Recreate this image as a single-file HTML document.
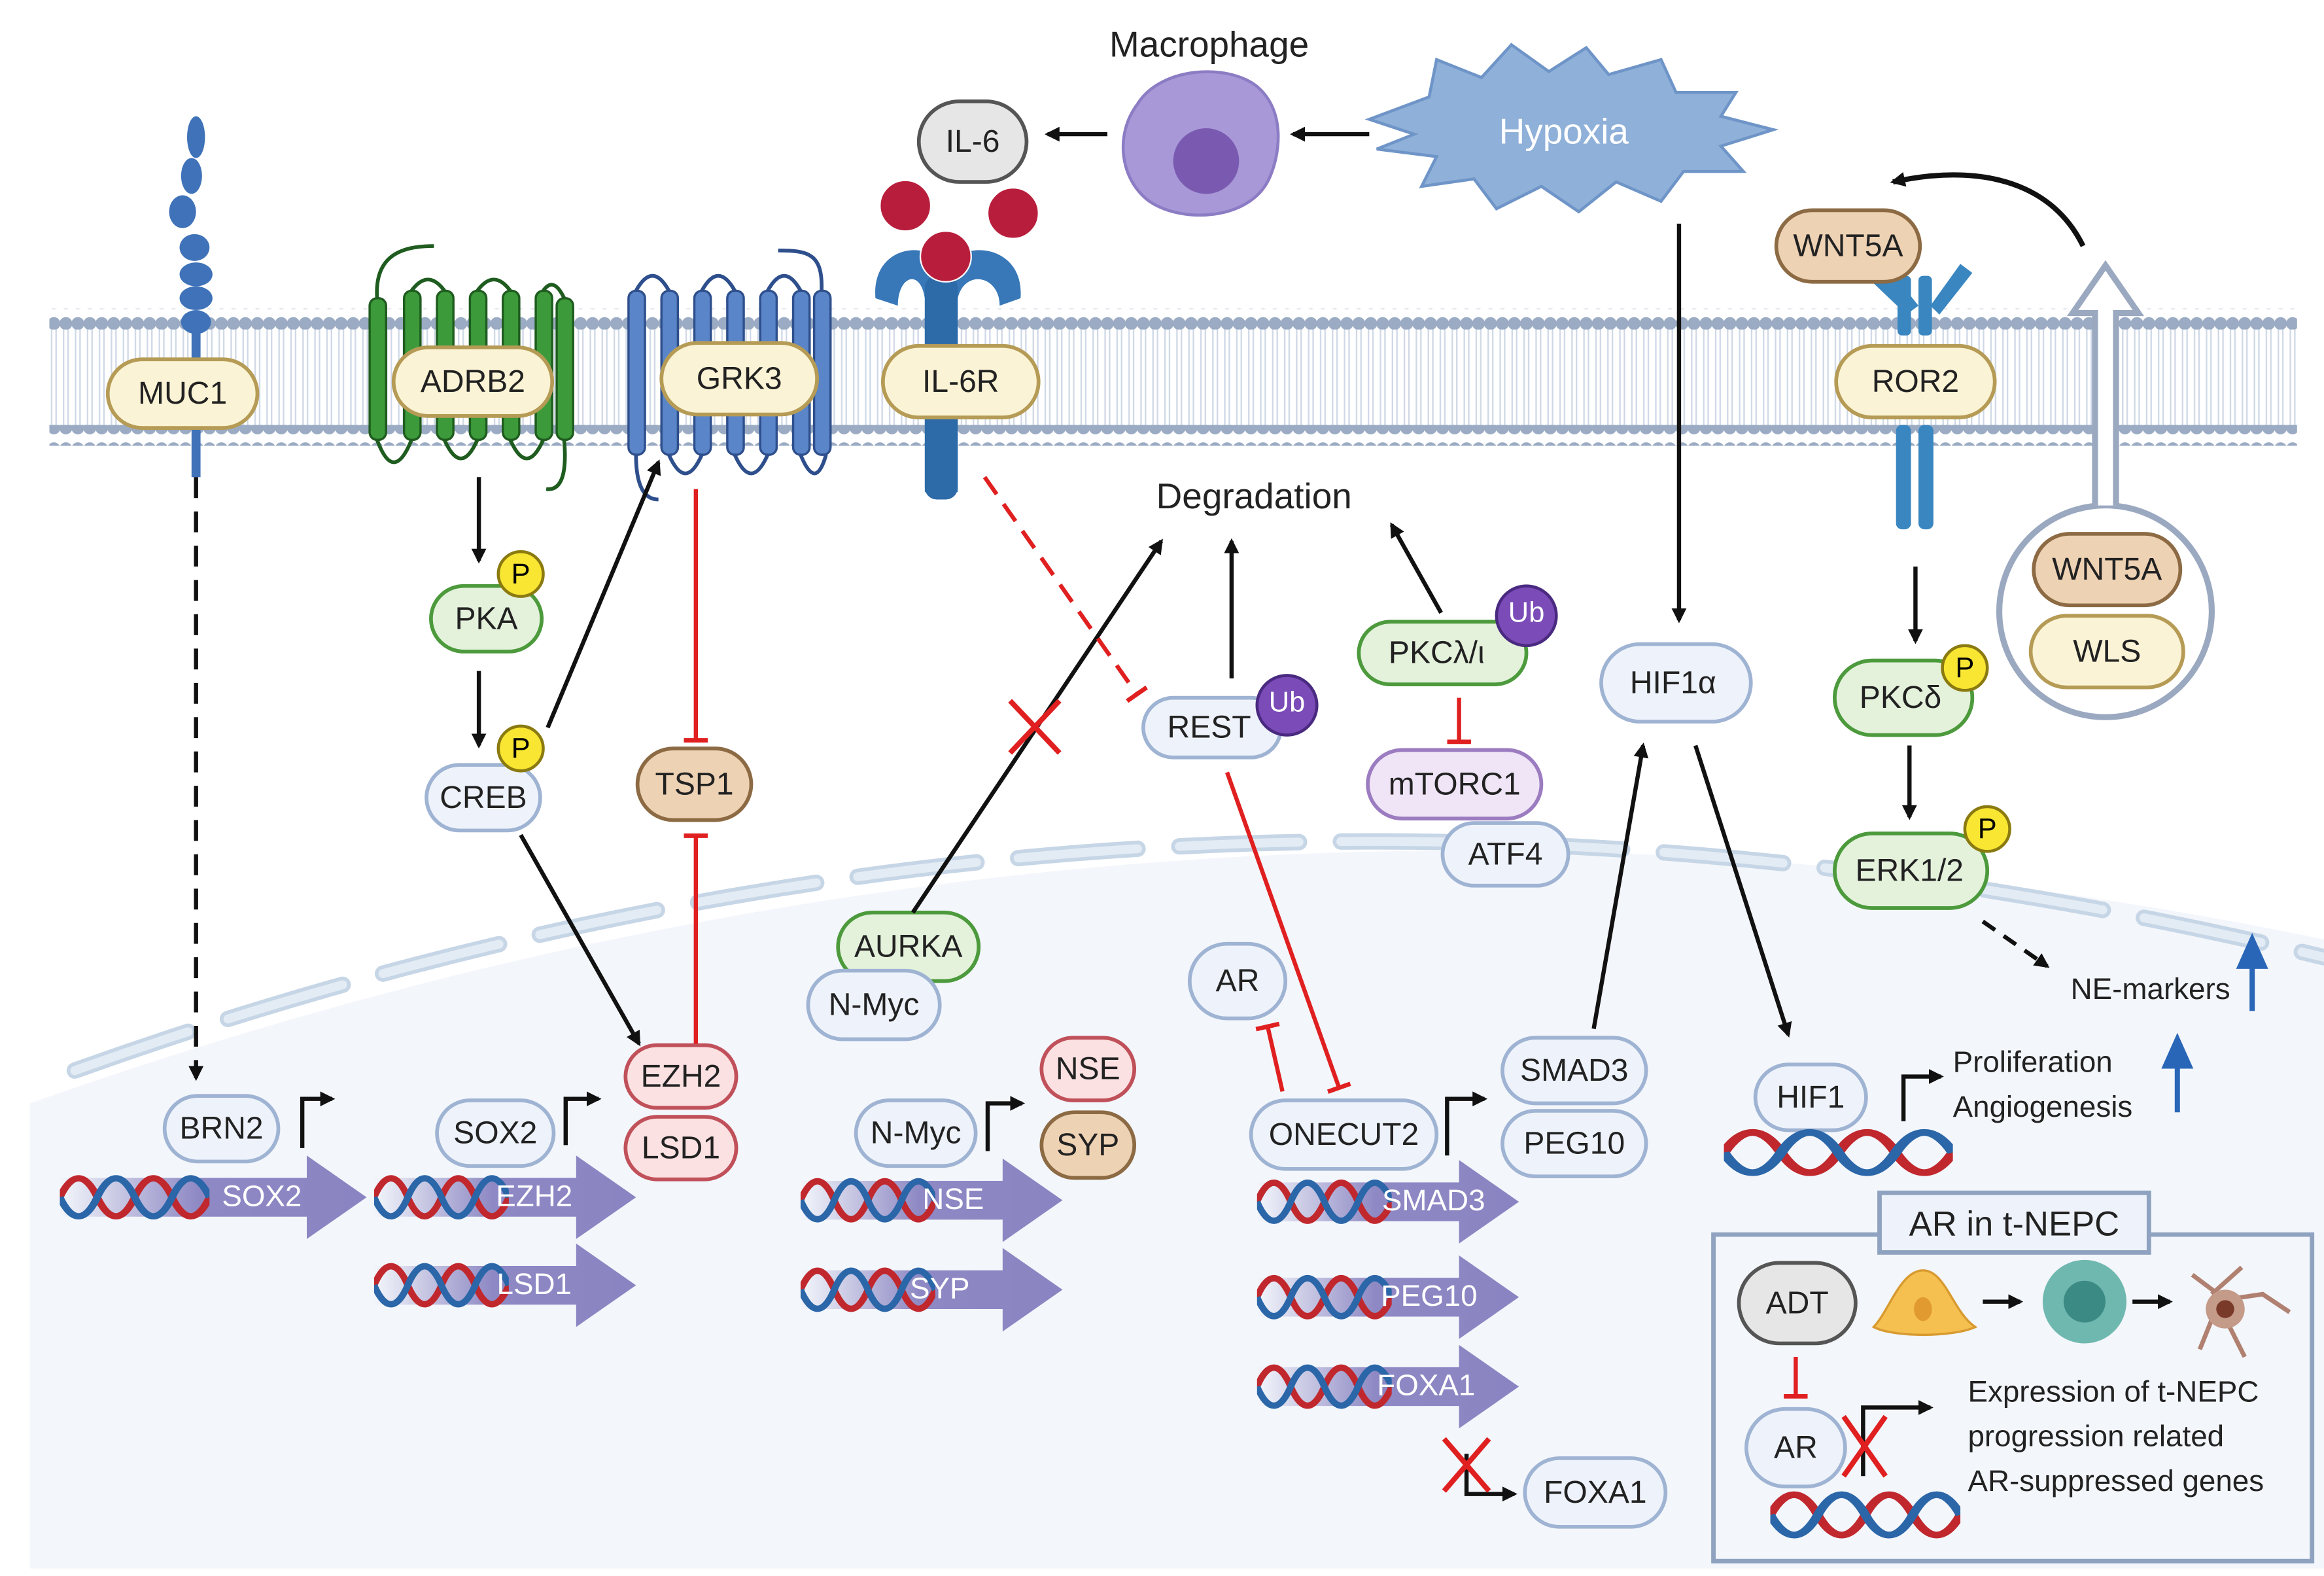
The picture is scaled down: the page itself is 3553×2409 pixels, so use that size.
<!DOCTYPE html>
<html><head><meta charset="utf-8"><style>
html,body{margin:0;padding:0;background:#fff}
svg{display:block}
text{font-family:"Liberation Sans",sans-serif}
</style></head><body>
<svg width="3553" height="2409" viewBox="0 0 1553 1057" preserveAspectRatio="none" xmlns="http://www.w3.org/2000/svg">
<defs>
<marker id="ah" markerWidth="10" markerHeight="10" refX="8" refY="5" orient="auto" markerUnits="userSpaceOnUse"><path d="M0,0 L10,5 L0,10 Z" fill="#111"/></marker>
<marker id="tb" markerWidth="4" markerHeight="16" refX="2" refY="8" orient="auto" markerUnits="userSpaceOnUse"><rect x="0" y="0" width="3" height="16" fill="#e02020"/></marker>
<pattern id="heads" width="8" height="14" patternUnits="userSpaceOnUse"><circle cx="4" cy="7" r="4.3" fill="#9aabc3"/></pattern>
<pattern id="tails" width="8" height="60" patternUnits="userSpaceOnUse"><path d="M2.5,0 V60 M5.5,0 V60" stroke="#cfd8e6" stroke-width="1"/></pattern>
<linearGradient id="pg" x1="0" x2="1"><stop offset="0" stop-color="#8e89c4" stop-opacity="0"/><stop offset="0.45" stop-color="#8e89c4"/><stop offset="1" stop-color="#8a84c2"/></linearGradient>
<symbol id="dna" viewBox="0 0 100 40" preserveAspectRatio="none">
<path d="M0,20 C8,0 17,0 25,20 S42,40 50,20 S67,0 75,20 S92,40 100,20" fill="none" stroke="#c0282d" stroke-width="5"/>
<path d="M0,20 C8,40 17,40 25,20 S42,0 50,20 S67,40 75,20 S92,0 100,20" fill="none" stroke="#2a66a8" stroke-width="5"/>
</symbol>
</defs>

<path d="M20,740 Q780,470 1553,630 V1052 H20 Z" fill="#f3f6fb"/>
<path d="M50,718 Q780,455 1553,642" fill="none" stroke="#c6d6e6" stroke-width="11" stroke-dasharray="80 28" stroke-linecap="round"/>
<path d="M50,718 Q780,455 1553,642" fill="none" stroke="#e3ecf4" stroke-width="6" stroke-dasharray="80 28" stroke-linecap="round"/>

<rect x="33" y="220" width="1502" height="66" fill="url(#tails)"/>
<rect x="33" y="207" width="1502" height="14" fill="url(#heads)"/>
<rect x="33" y="285" width="1502" height="14" fill="url(#heads)"/>

<g fill="#3f72b8"><ellipse cx="131" cy="92" rx="6" ry="14"/><ellipse cx="128" cy="118" rx="7" ry="12"/><ellipse cx="122" cy="142" rx="9" ry="11"/><ellipse cx="130" cy="166" rx="10" ry="9"/><ellipse cx="131" cy="184" rx="11" ry="8"/><ellipse cx="131" cy="200" rx="11" ry="8"/><ellipse cx="131" cy="216" rx="10" ry="8"/><rect x="128" y="220" width="6" height="100"/></g>

<g fill="#3c9a3a" stroke="#1f5c1f" stroke-width="1.5">
<rect x="247" y="200" width="11" height="95" rx="5"/><rect x="270" y="195" width="11" height="100" rx="5"/><rect x="292" y="195" width="11" height="100" rx="5"/><rect x="314" y="195" width="11" height="100" rx="5"/><rect x="336" y="195" width="11" height="100" rx="5"/><rect x="358" y="195" width="11" height="100" rx="5"/><rect x="372" y="200" width="11" height="95" rx="5"/></g>
<path d="M252,200 C250,170 270,165 290,165 M275,195 Q286,180 297,195 M319,195 Q330,180 341,195 M363,195 Q370,185 377,200 M252,295 Q263,325 275,295 M297,295 Q308,320 319,295 M341,295 Q352,320 363,295 M377,295 Q380,330 365,328" fill="none" stroke="#1f5c1f" stroke-width="2.5"/>

<g fill="#5a85c8" stroke="#2e4f8c" stroke-width="1.5">
<rect x="420" y="195" width="11" height="110" rx="5"/><rect x="442" y="195" width="11" height="110" rx="5"/><rect x="464" y="195" width="11" height="110" rx="5"/><rect x="486" y="195" width="11" height="110" rx="5"/><rect x="508" y="195" width="11" height="110" rx="5"/><rect x="530" y="195" width="11" height="110" rx="5"/><rect x="544" y="195" width="11" height="110" rx="5"/></g>
<path d="M425,195 Q436,175 447,195 M469,195 Q480,175 491,195 M513,195 Q524,175 535,195 M549,195 C550,170 540,168 520,168 M447,305 Q458,330 469,305 M491,305 Q502,330 513,305 M535,305 Q545,330 552,305 M425,305 Q425,335 440,335" fill="none" stroke="#2e4f8c" stroke-width="2.5"/>

<path d="M585,200 C582,160 630,160 632,185 C634,160 685,160 682,200 L668,205 C668,185 645,180 640,200 L640,330 L618,330 L618,200 C615,180 600,185 600,205 Z" fill="#3878b8"/>
<rect x="618" y="185" width="22" height="150" rx="8" fill="#2d6aa8"/>
<g fill="#b81e3c" stroke="#fff" stroke-width="1"><circle cx="605" cy="138" r="17"/><circle cx="677" cy="143" r="17"/><circle cx="632" cy="172" r="17"/></g>

<g fill="#3a86c0"><rect x="1268" y="185" width="9" height="40" rx="3"/><rect x="1282" y="185" width="9" height="40" rx="3"/><path d="M1252,190 l10,-10 l20,25 l-8,6 z"/><path d="M1290,205 l20,-28 l8,6 l-22,28 z"/><rect x="1267" y="285" width="10" height="70" rx="4"/><rect x="1282" y="285" width="10" height="70" rx="4"/></g>

<g font-size="21" text-anchor="middle" dominant-baseline="central" fill="#222">
<g fill="#fbf3d5" stroke="#b59b55" stroke-width="2.5">
<rect x="72" y="241" width="100" height="46" rx="23"/><rect x="263" y="233" width="106" height="46" rx="23"/><rect x="442" y="230" width="104" height="48" rx="24"/><rect x="590" y="232" width="104" height="48" rx="24"/><rect x="1227" y="232" width="106" height="48" rx="24"/><rect x="1357" y="413" width="102" height="48" rx="24"/></g>
<g fill="#eed2b4" stroke="#8c6a44" stroke-width="2.5"><rect x="1187" y="141" width="96" height="48" rx="24"/><rect x="1359" y="358" width="98" height="48" rx="24"/><rect x="426" y="502" width="76" height="48" rx="24"/><rect x="696" y="746" width="62" height="44" rx="22"/></g>
<g fill="#e4f2dc" stroke="#4c9a3c" stroke-width="2.5"><rect x="288" y="393" width="74" height="44" rx="22"/><rect x="908" y="417" width="112" height="42" rx="21"/><rect x="1226" y="443" width="92" height="50" rx="25"/><rect x="1226" y="559" width="102" height="50" rx="25"/><rect x="560" y="612" width="94" height="46" rx="23"/></g>
<g fill="#eef3fb" stroke="#9fb3d3" stroke-width="2.5"><rect x="285" y="513" width="76" height="44" rx="22"/><rect x="764" y="468" width="92" height="40" rx="20"/><rect x="1070" y="432" width="100" height="52" rx="26"/><rect x="964" y="552" width="84" height="42" rx="21"/><rect x="540" y="651" width="88" height="46" rx="23"/><rect x="795" y="633" width="64" height="50" rx="25"/><rect x="110" y="735" width="76" height="44" rx="22"/><rect x="292" y="738" width="78" height="44" rx="22"/><rect x="572" y="738" width="80" height="44" rx="22"/><rect x="836" y="738" width="124" height="46" rx="23"/><rect x="1004" y="696" width="96" height="44" rx="22"/><rect x="1004" y="745" width="96" height="44" rx="22"/><rect x="1173" y="714" width="74" height="44" rx="22"/><rect x="1019" y="978" width="94" height="46" rx="23"/><rect x="1167" y="945" width="66" height="52" rx="26"/></g>
<g fill="#fbe1e1" stroke="#c0505a" stroke-width="2.5"><rect x="418" y="701" width="74" height="42" rx="21"/><rect x="418" y="749" width="74" height="42" rx="21"/><rect x="696" y="696" width="62" height="42" rx="21"/></g>
<rect x="914" y="503" width="116" height="46" rx="23" fill="#efe5f6" stroke="#9c7cc0" stroke-width="2.5"/>
<rect x="614" y="68" width="72" height="54" rx="27" fill="#e6e6e6" stroke="#555" stroke-width="2.5"/>
<rect x="1162" y="847" width="78" height="54" rx="27" fill="#e6e6e6" stroke="#555" stroke-width="2.5"/>

<text x="122" y="264">MUC1</text><text x="316" y="256">ADRB2</text><text x="494" y="254">GRK3</text><text x="642" y="256">IL-6R</text><text x="1280" y="256">ROR2</text><text x="1408" y="437">WLS</text>
<text x="1235" y="165">WNT5A</text><text x="1408" y="382">WNT5A</text><text x="464" y="526">TSP1</text><text x="727" y="768">SYP</text>
<text x="325" y="415">PKA</text><text x="960" y="438">PKCλ/ι</text><text x="1270" y="468">PKCδ</text><text x="1276" y="584">ERK1/2</text><text x="607" y="635">AURKA</text>
<text x="323" y="535">CREB</text><text x="808" y="488">REST</text><text x="1118" y="458">HIF1α</text><text x="1006" y="573">ATF4</text><text x="584" y="674">N-Myc</text><text x="827" y="658">AR</text>
<text x="148" y="757">BRN2</text><text x="331" y="760">SOX2</text><text x="612" y="760">N-Myc</text><text x="898" y="761">ONECUT2</text><text x="1052" y="718">SMAD3</text><text x="1052" y="767">PEG10</text><text x="1210" y="736">HIF1</text><text x="1066" y="1001">FOXA1</text><text x="1200" y="971">AR</text>
<text x="455" y="722">EZH2</text><text x="455" y="770">LSD1</text><text x="727" y="717">NSE</text>
<text x="972" y="526">mTORC1</text><text x="650" y="95">IL-6</text><text x="1201" y="874">ADT</text>
</g>

<g font-size="19" text-anchor="middle" dominant-baseline="central">
<g fill="#f8e633" stroke="#8a7a10" stroke-width="2"><circle cx="348" cy="385" r="15"/><circle cx="348" cy="502" r="15"/><circle cx="1313" cy="448" r="15"/><circle cx="1328" cy="556" r="15"/></g>
<text x="348" y="385">P</text><text x="348" y="502">P</text><text x="1313" y="448">P</text><text x="1328" y="556">P</text>
<g fill="#7b4bb8" stroke="#4a2a80" stroke-width="2"><circle cx="860" cy="473" r="20"/><circle cx="1020" cy="413" r="20"/></g>
<text x="860" y="471" fill="#fff">Ub</text><text x="1020" y="411" fill="#fff">Ub</text>
</g>

<path d="M760,70 C775,45 820,42 840,58 C860,75 855,105 848,120 C835,148 790,150 768,135 C748,120 745,90 760,70 Z" fill="#a898d8" stroke="#8c7cc4" stroke-width="2"/>
<circle cx="806" cy="108" r="22" fill="#7a5ab0"/>
<text x="808" y="38" font-size="24" text-anchor="middle" fill="#222">Macrophage</text>
<path d="M915,80 L955,65 L960,40 L990,52 L1010,30 L1035,48 L1060,32 L1075,50 L1110,40 L1120,62 L1160,62 L1150,78 L1185,87 L1150,98 L1165,115 L1125,115 L1110,135 L1080,122 L1055,142 L1030,125 L1000,140 L985,120 L950,125 L960,105 L920,100 L945,90 Z" fill="#8fb0d8" stroke="#6f95c8" stroke-width="2"/>
<text x="1045" y="88" font-size="24" text-anchor="middle" dominant-baseline="central" fill="#fff">Hypoxia</text>

<circle cx="1407" cy="410" r="71" fill="none" stroke="#9aa8c0" stroke-width="4"/>
<path d="M1400,339 V210 H1385 L1407,178 L1429,210 H1414 V339" fill="#fff" stroke="#9aa8c0" stroke-width="4"/>
<path d="M1392,165 C1370,120 1320,110 1265,122" fill="none" stroke="#111" stroke-width="3.5" marker-end="url(#ah)"/>

<text x="838" y="341" font-size="24" text-anchor="middle" fill="#222">Degradation</text>
<text x="1437" y="670" font-size="20" text-anchor="middle" fill="#222">NE-markers</text>
<text x="1305" y="719" font-size="20" fill="#222">Proliferation</text>
<text x="1305" y="749" font-size="20" fill="#222">Angiogenesis</text>
<g stroke="#2a66b8" stroke-width="3.5" fill="#2a66b8"><line x1="1505" y1="678" x2="1505" y2="645"/><path d="M1497,648 L1505,630 L1513,648 Z"/><line x1="1455" y1="746" x2="1455" y2="712"/><path d="M1447,715 L1455,697 L1463,715 Z"/></g>

<g stroke="#111" stroke-width="2.8" fill="none" marker-end="url(#ah)">
<line x1="915" y1="90" x2="864" y2="90"/><line x1="740" y1="90" x2="700" y2="90"/>
<line x1="1122" y1="150" x2="1122" y2="416"/>
<line x1="320" y1="320" x2="320" y2="376"/><line x1="320" y1="450" x2="320" y2="500"/>
<line x1="366" y1="488" x2="440" y2="310"/>
<line x1="348" y1="560" x2="427" y2="700"/>
<line x1="610" y1="612" x2="776" y2="363"/>
<line x1="823" y1="455" x2="823" y2="363"/>
<line x1="963" y1="411" x2="930" y2="352"/>
<line x1="1065" y1="690" x2="1098" y2="500"/>
<line x1="1133" y1="500" x2="1195" y2="694"/>
<line x1="1280" y1="380" x2="1280" y2="430"/><line x1="1276" y1="500" x2="1276" y2="548"/>
<line x1="1325" y1="618" x2="1368" y2="648" stroke-dasharray="10 7"/>
<line x1="131" y1="320" x2="131" y2="723" stroke-dasharray="14 9"/>
</g>
<g stroke="#111" stroke-width="2.8" fill="none">
<path d="M202,770 V737 H222" marker-end="url(#ah)"/><path d="M378,768 V737 H400" marker-end="url(#ah)"/><path d="M660,772 V740 H683" marker-end="url(#ah)"/><path d="M967,775 V737 H992" marker-end="url(#ah)"/><path d="M1272,752 V722 H1297" marker-end="url(#ah)"/><path d="M980,975 V1002 H1012" marker-end="url(#ah)"/>
<path d="M1245,990 V944 H1290" marker-end="url(#ah)"/>
<line x1="1325" y1="873" x2="1350" y2="873" marker-end="url(#ah)"/><line x1="1425" y1="873" x2="1450" y2="873" marker-end="url(#ah)"/>
</g>

<g stroke="#e02020" stroke-width="2.8" fill="none">
<line x1="465" y1="328" x2="465" y2="497" marker-end="url(#tb)"/>
<line x1="465" y1="700" x2="465" y2="560" marker-end="url(#tb)"/>
<line x1="658" y1="320" x2="760" y2="466" stroke-dasharray="14 8" marker-end="url(#tb)"/>
<line x1="820" y1="518" x2="895" y2="730" marker-end="url(#tb)"/>
<line x1="857" y1="732" x2="847" y2="688" marker-end="url(#tb)"/>
<line x1="975" y1="468" x2="975" y2="498" marker-end="url(#tb)"/>
<line x1="1200" y1="910" x2="1200" y2="937" marker-end="url(#tb)"/>
<path d="M675,470 L708,505 M708,470 L675,505 M965,965 L995,1000 M995,965 L965,1000 M1232,950 L1260,990 M1260,950 L1232,990" stroke-width="3.5"/>
</g>

<g font-size="20" fill="#fff" text-anchor="middle" dominant-baseline="central">
<path d="M40,790 H205 V775 L245,803 L205,831 V816 H40 Z" fill="url(#pg)"/><use href="#dna" x="40" y="786" width="100" height="34"/><text x="175" y="802">SOX2</text>
<path d="M250,790 H385 V775 L425,803 L385,831 V816 H250 Z" fill="url(#pg)"/><use href="#dna" x="250" y="786" width="90" height="34"/><text x="357" y="802">EZH2</text>
<path d="M250,849 H385 V834 L425,862 L385,890 V875 H250 Z" fill="url(#pg)"/><use href="#dna" x="250" y="845" width="90" height="34"/><text x="357" y="861">LSD1</text>
<path d="M535,792 H670 V777 L710,805 L670,833 V818 H535 Z" fill="url(#pg)"/><use href="#dna" x="535" y="788" width="90" height="34"/><text x="637" y="804">NSE</text>
<path d="M535,852 H670 V837 L710,865 L670,893 V878 H535 Z" fill="url(#pg)"/><use href="#dna" x="535" y="848" width="90" height="34"/><text x="628" y="864">SYP</text>
<path d="M840,793 H975 V778 L1015,806 L975,834 V819 H840 Z" fill="url(#pg)"/><use href="#dna" x="840" y="789" width="90" height="34"/><text x="958" y="805">SMAD3</text>
<path d="M840,857 H975 V842 L1015,870 L975,898 V883 H840 Z" fill="url(#pg)"/><use href="#dna" x="840" y="853" width="90" height="34"/><text x="955" y="869">PEG10</text>
<path d="M840,917 H975 V902 L1015,930 L975,958 V943 H840 Z" fill="url(#pg)"/><use href="#dna" x="840" y="913" width="90" height="34"/><text x="953" y="929">FOXA1</text>
</g>
<use href="#dna" x="1152" y="755" width="153" height="36"/>
<use href="#dna" x="1183" y="998" width="127" height="36"/>

<rect x="1145" y="828" width="400" height="219" fill="none" stroke="#8fa3c0" stroke-width="3"/>
<rect x="1256" y="800" width="180" height="40" fill="#eef3fb" stroke="#8fa3c0" stroke-width="3"/>
<text x="1346" y="821" font-size="23" text-anchor="middle" dominant-baseline="central" fill="#222">AR in t-NEPC</text>
<path d="M1252,890 C1262,880 1270,852 1285,852 C1300,852 1305,880 1320,890 C1305,897 1265,897 1252,890 Z" fill="#f5c050" stroke="#d89a30" stroke-width="1.5"/>
<ellipse cx="1285" cy="878" rx="6" ry="8" fill="#e09a30"/>
<circle cx="1393" cy="873" r="28" fill="#6fb8b0"/><circle cx="1393" cy="873" r="14" fill="#3c8a84"/>
<path d="M1465,855 L1485,870 M1478,868 L1498,850 M1485,872 L1512,868 L1530,880 M1490,890 L1500,910 M1478,885 L1470,905" stroke="#b08070" stroke-width="3" fill="none"/>
<circle cx="1487" cy="878" r="13" fill="#c49a88"/><circle cx="1487" cy="878" r="6" fill="#7a3a2a"/>
<g font-size="20" fill="#222"><text x="1315" y="940">Expression of t-NEPC</text><text x="1315" y="970">progression related</text><text x="1315" y="1000">AR-suppressed genes</text></g>
</svg>
</body></html>
